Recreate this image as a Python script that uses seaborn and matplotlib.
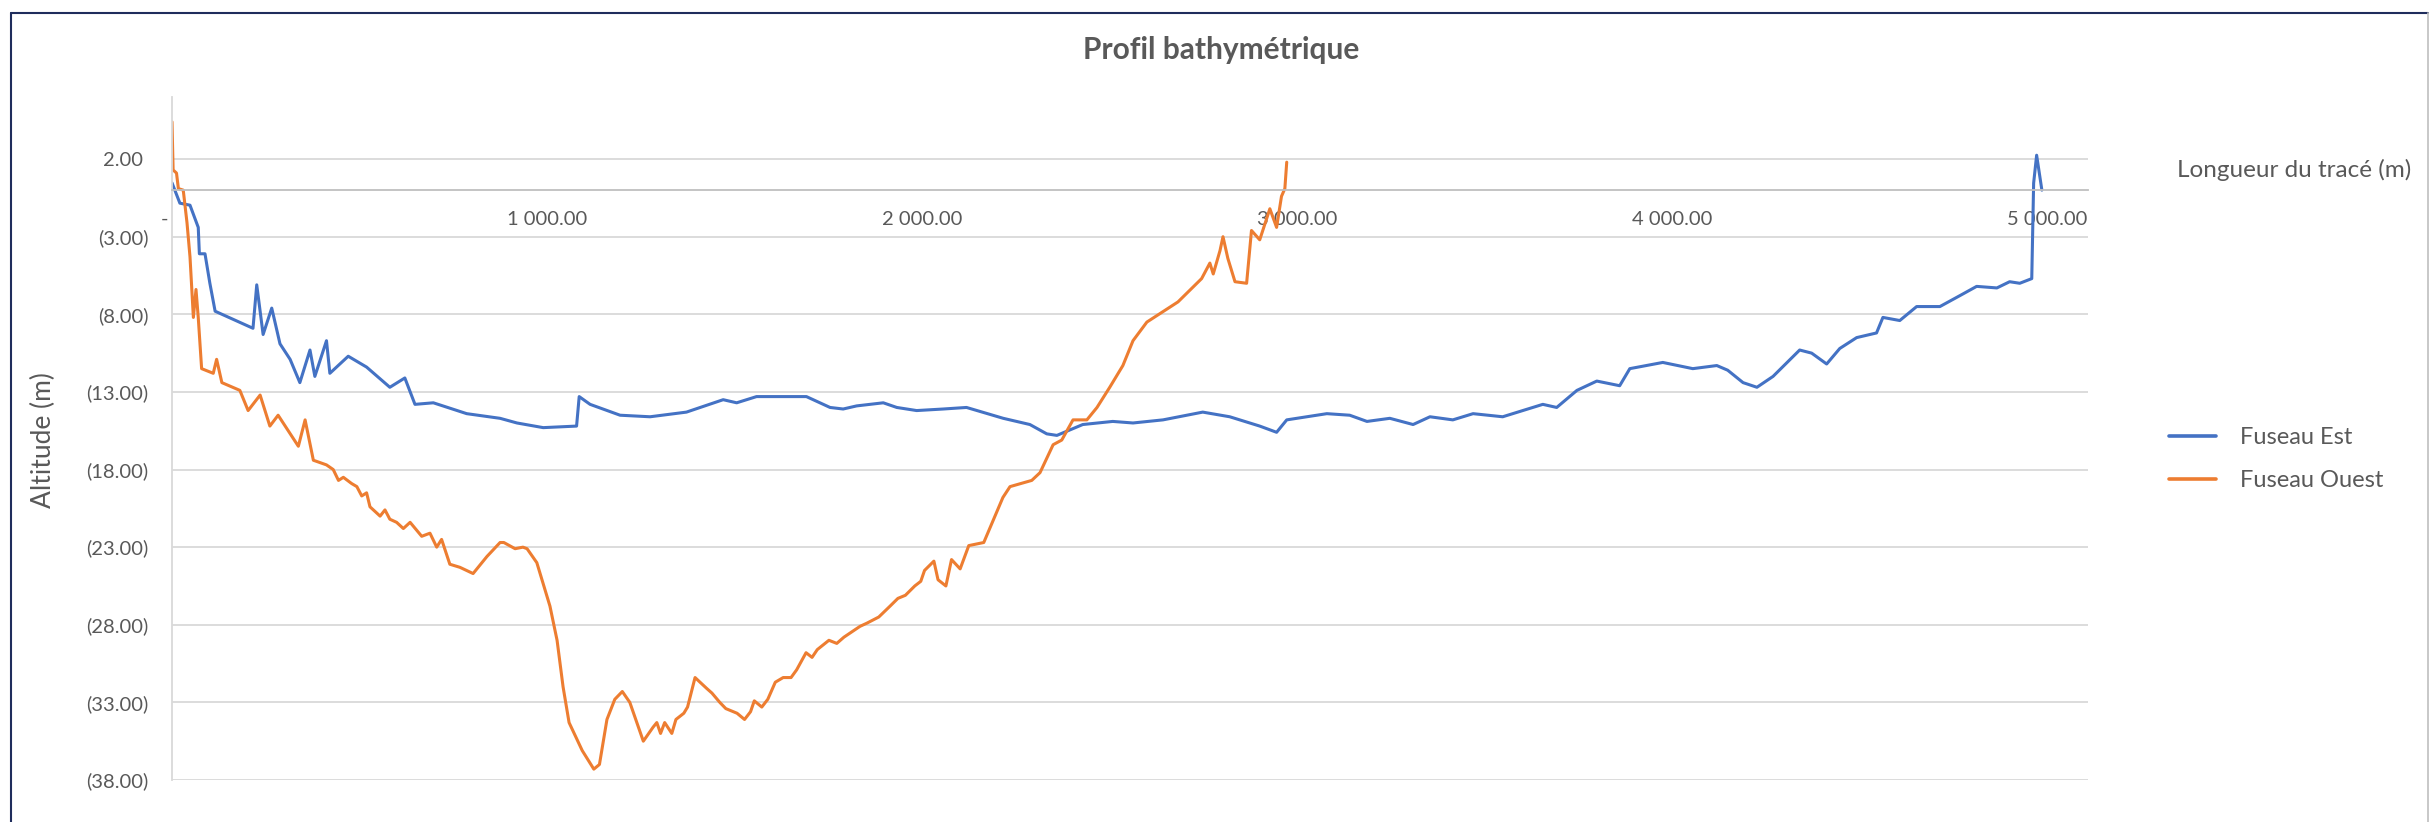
import numpy as np
import pandas as pd
import matplotlib.pyplot as plt
import matplotlib.ticker as mticker
from matplotlib.lines import Line2D
import seaborn as sns

# Fuseau Est : distance (m) / altitude (m)
dist_est = [0, 21, 48, 70, 73, 88, 101, 115, 216, 226,
            243, 266, 288, 315, 341, 368, 381, 412, 421, 470,
            519, 581, 621, 648, 697, 786, 875, 920, 990, 1079,
            1086, 1115, 1195, 1275, 1372, 1470, 1506, 1559, 1692, 1755,
            1790, 1826, 1897, 1933, 1986, 2057, 2119, 2217, 2288, 2333,
            2360, 2429, 2509, 2563, 2643, 2749, 2821, 2901, 2946, 2973,
            3080, 3141, 3187, 3248, 3310, 3355, 3416, 3470, 3549, 3656,
            3693, 3747, 3800, 3861, 3888, 3976, 4056, 4120, 4149, 4190,
            4227, 4270, 4341, 4373, 4413, 4448, 4493, 4546, 4563, 4608,
            4653, 4715, 4768, 4813, 4867, 4901, 4928, 4960, 4965, 4973,
            4987]
alt_est = [0.47, -0.84, -0.97, -2.4, -4.1, -4.1, -6.0, -7.8, -8.9, -6.1,
           -9.3, -7.6, -9.9, -10.9, -12.4, -10.3, -12.0, -9.7, -11.8, -10.7,
           -11.4, -12.7, -12.1, -13.8, -13.7, -14.4, -14.7, -15.0, -15.3, -15.2,
           -13.3, -13.8, -14.5, -14.6, -14.3, -13.5, -13.7, -13.3, -13.3, -14.0,
           -14.1, -13.9, -13.7, -14.0, -14.2, -14.1, -14.0, -14.7, -15.1, -15.7,
           -15.8, -15.1, -14.9, -15.0, -14.8, -14.3, -14.6, -15.2, -15.6, -14.8,
           -14.4, -14.5, -14.9, -14.7, -15.1, -14.6, -14.8, -14.4, -14.6, -13.8,
           -14.0, -12.9, -12.3, -12.6, -11.5, -11.1, -11.5, -11.3, -11.6, -12.4,
           -12.7, -12.0, -10.3, -10.5, -11.2, -10.2, -9.5, -9.2, -8.2, -8.4,
           -7.5, -7.5, -6.8, -6.2, -6.3, -5.9, -6.0, -5.7, 0.45, 2.25,
           0.0]

# Fuseau Ouest
dist_ouest = [0, 3, 12, 17, 30, 40, 48, 57, 64, 70,
              79, 110, 119, 133, 181, 203, 235, 261, 283, 337,
              355, 377, 412, 430, 444, 457, 479, 493, 506, 519,
              528, 555, 568, 581, 599, 617, 635, 666, 688, 706,
              719, 741, 768, 803, 840, 875, 885, 915, 936, 947,
              973, 1008, 1027, 1043, 1059, 1094, 1125, 1140, 1160, 1181,
              1201, 1221, 1257, 1283, 1293, 1303, 1314, 1333, 1344, 1365,
              1375, 1395, 1426, 1440, 1461, 1477, 1507, 1527, 1543, 1553,
              1573, 1589, 1609, 1630, 1651, 1666, 1691, 1707, 1721, 1752,
              1773, 1792, 1835, 1853, 1885, 1915, 1936, 1956, 1981, 1997,
              2007, 2032, 2043, 2064, 2079, 2102, 2125, 2165, 2216, 2235,
              2293, 2315, 2350, 2373, 2403, 2440, 2467, 2501, 2536, 2563,
              2600, 2683, 2746, 2768, 2777, 2795, 2803, 2816, 2835, 2866,
              2879, 2901, 2928, 2946, 2959, 2968, 2973]
alt_ouest = [4.4, 1.3, 1.1, 0.1, 0.0, -2.1, -4.3, -8.2, -6.4, -8.2,
             -11.5, -11.8, -10.9, -12.4, -12.9, -14.2, -13.2, -15.2, -14.5, -16.5,
             -14.8, -17.4, -17.7, -18.0, -18.7, -18.5, -18.9, -19.1, -19.7, -19.5,
             -20.4, -21.0, -20.6, -21.2, -21.4, -21.8, -21.4, -22.3, -22.1, -23.0,
             -22.5, -24.1, -24.3, -24.7, -23.6, -22.7, -22.7, -23.1, -23.0, -23.1,
             -24.0, -26.8, -29.0, -32.0, -34.3, -36.1, -37.3, -37.0, -34.1, -32.8,
             -32.3, -33.0, -35.5, -34.6, -34.3, -35.0, -34.3, -35.0, -34.1, -33.7,
             -33.3, -31.4, -32.1, -32.4, -33.0, -33.4, -33.7, -34.1, -33.6, -32.9,
             -33.3, -32.8, -31.7, -31.4, -31.4, -30.9, -29.8, -30.1, -29.6, -29.0,
             -29.2, -28.8, -28.1, -27.9, -27.5, -26.8, -26.3, -26.1, -25.5, -25.2,
             -24.5, -23.9, -25.1, -25.5, -23.8, -24.4, -22.9, -22.7, -19.8, -19.1,
             -18.7, -18.2, -16.4, -16.1, -14.8, -14.8, -14.0, -12.7, -11.3, -9.7,
             -8.5, -7.2, -5.7, -4.7, -5.4, -3.9, -3.0, -4.4, -5.9, -6.0,
             -2.6, -3.2, -1.2, -2.4, -0.4, 0.1, 1.8]

series = ["Fuseau Est", "Fuseau Ouest"]
colors = ["#4472C4", "#ED7D31"]
x_ticks = [0, 1000, 2000, 3000, 4000, 5000]
y_ticks = [2, -3, -8, -13, -18, -23, -28, -33, -38]

df = pd.concat([
    pd.DataFrame({"dist": dist_est, "alt": alt_est, "serie": series[0]}),
    pd.DataFrame({"dist": dist_ouest, "alt": alt_ouest, "serie": series[1]}),
])

sns.set_style("white")
plt.rcParams["font.family"] = ["Lato", "DejaVu Sans"]
grey = "#595959"

W, H = 2431, 822
fig = plt.figure(figsize=(W / 100, H / 100), dpi=100)
ax = fig.add_axes([172 / W, 1 - 780 / H, (2088 - 172) / W, (780 - 97) / H])

sns.lineplot(data=df, x="dist", y="alt", hue="serie", palette=colors,
             sort=False, estimator=None, linewidth=2.2, legend=False, ax=ax)

ax.set_xlim(0, 5110)
ax.set_ylim(-38, 6)
ax.set_xticks(x_ticks)
ax.set_yticks(y_ticks)


def fmt_x(v, pos):
    if v == 0:
        return "-   "
    return f"{v:,.2f}".replace(",", " ")


def fmt_y(v, pos):
    if v < 0:
        return f"({abs(v):.2f})"
    return f"{v:.2f} "


ax.xaxis.set_major_formatter(mticker.FuncFormatter(fmt_x))
ax.yaxis.set_major_formatter(mticker.FuncFormatter(fmt_y))
ax.tick_params(axis="x", length=0, pad=15, labelsize=14.5, labelcolor=grey)
ax.tick_params(axis="y", length=0, pad=17, labelsize=14.5, labelcolor=grey)

ax.grid(axis="y", color="#D9D9D9", linewidth=1.3)
ax.grid(axis="x", visible=False)
ax.spines["bottom"].set_position(("data", 0))
ax.spines["bottom"].set_color("#BFBFBF")
ax.spines["bottom"].set_linewidth(1.3)
ax.spines["left"].set_color("#D9D9D9")
ax.spines["left"].set_linewidth(1.3)
ax.spines["top"].set_visible(False)
ax.spines["right"].set_visible(False)

ax.set_xlabel("")
ax.set_ylabel("Altitude (m)", fontsize=19, color=grey)
ax.yaxis.set_label_coords((56 - 172) / (2088 - 172), (780 - 440) / (780 - 97))

fig.text(1221 / W, 1 - 50 / H, "Profil bathymétrique", ha="center", va="center",
         fontsize=21.5, fontweight="bold", color=grey)
fig.text(2177 / W, 1 - 170 / H, "Longueur du tracé (m)", ha="left", va="center",
         fontsize=17.5, color=grey)

handles = [Line2D([0], [0], color=c, linewidth=2.6) for c in colors]
fig.legend(handles, series, loc="center left", bbox_to_anchor=(2169 / W, 1 - 459 / H),
           frameon=False, fontsize=17, labelcolor=grey, handlelength=2.0,
           handletextpad=1.0, labelspacing=0.95, borderpad=0, borderaxespad=0)

# cadre du graphique
fig.add_artist(Line2D([10.5 / W, 10.5 / W], [0, 1 - 13 / H], color="#1F2D5C", linewidth=1.5))
fig.add_artist(Line2D([10.5 / W, 2428 / W], [1 - 13 / H, 1 - 13 / H], color="#1F2D5C", linewidth=1.5))
fig.add_artist(Line2D([2428 / W, 2428 / W], [0, 1 - 13 / H], color="#BFBFBF", linewidth=1.2))

fig.savefig("out.png", dpi=100)
